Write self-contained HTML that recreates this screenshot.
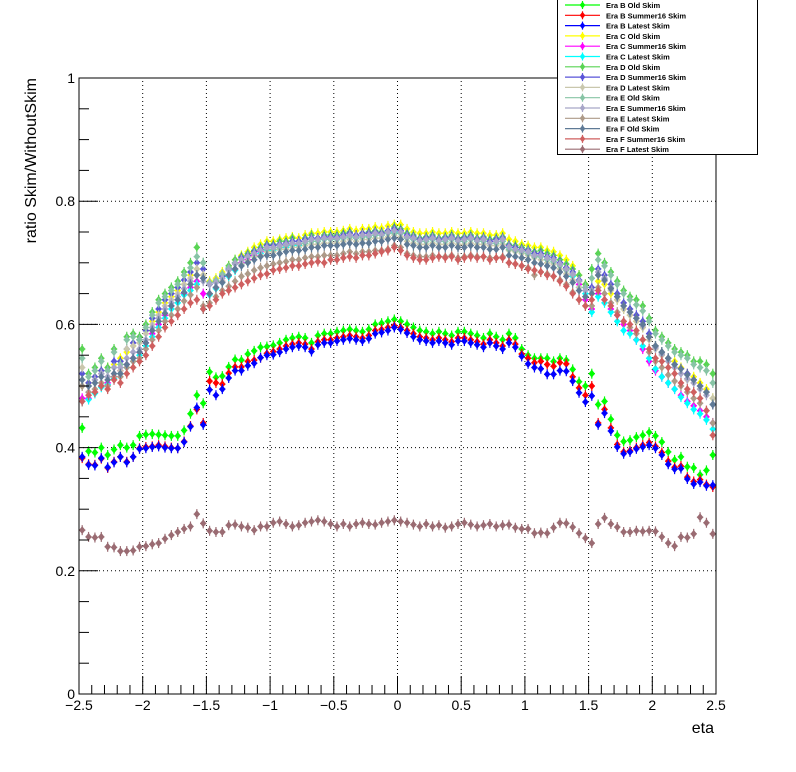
<!DOCTYPE html>
<html><head><meta charset="utf-8"><style>
html,body{margin:0;padding:0;background:#fff}
svg{display:block;font-family:"Liberation Sans",sans-serif}
</style></head><body>
<svg id="chart" width="796" height="772" viewBox="0 0 796 772" xmlns="http://www.w3.org/2000/svg">
<rect x="0" y="0" width="796" height="772" fill="#fff"/>
<g id="grid"></g>
<g id="marks"></g>
<g id="axes"></g>
<text x="32" y="78" transform="rotate(-90 32 78)" text-anchor="end" dominant-baseline="middle" font-size="16">ratio Skim/WithoutSkim</text>
<text x="714" y="733" text-anchor="end" font-size="16">eta</text>
<g id="legend"></g>
</svg>
<script>
const seriesNames=["Era B Old Skim","Era B Summer16 Skim","Era B Latest Skim","Era C Old Skim","Era C Summer16 Skim","Era C Latest Skim","Era D Old Skim","Era D Summer16 Skim","Era D Latest Skim","Era E Old Skim","Era E Summer16 Skim","Era E Latest Skim","Era F Old Skim","Era F Summer16 Skim","Era F Latest Skim"];
const xTicks=[-2.5,-2,-1.5,-1,-0.5,0,0.5,1,1.5,2,2.5];
const xTickLabels=["\u22122.5","\u22122","\u22121.5","\u22121","\u22120.5","0","0.5","1","1.5","2","2.5"];
const yTicks=[0,0.2,0.4,0.6,0.8,1];
const yTickLabels=["0","0.2","0.4","0.6","0.8","1"];
const binLow=-2.5, binWidth=0.05;
// values in thousandths
const bOld=[432,394,392,400,388,397,404,400,404,419,421,422,421,420,419,419,428,455,485,472,523,514,516,531,543,542,552,557,563,564,566,570,575,578,580,578,570,582,585,585,588,590,592,590,588,592,600,602,605,608,605,600,595,590,588,585,588,585,582,588,588,585,582,578,585,580,575,585,578,560,550,545,545,545,540,545,542,527,507,500,520,470,475,446,420,410,412,417,420,425,419,409,393,380,385,369,367,356,363,388];
const bSum=[383,373,372,382,367,377,385,377,385,399,401,402,404,402,400,399,410,435,462,440,508,505,503,521,531,531,540,542,546,553,556,560,565,568,570,568,560,572,575,575,578,580,582,580,578,582,590,592,595,598,595,590,585,580,578,575,578,575,572,578,578,575,572,568,575,570,565,575,568,552,545,538,540,535,532,538,536,515,497,485,500,440,462,432,405,393,395,400,404,408,402,392,378,368,370,352,345,348,340,336];
const bLat=[385,372,371,383,368,376,385,376,385,398,399,401,402,400,399,399,409,434,465,437,494,485,495,513,525,525,533,537,546,550,551,555,560,563,565,563,556,567,570,570,573,575,577,575,573,577,585,587,590,595,592,586,580,575,573,570,573,570,567,573,573,570,567,563,570,565,560,570,563,548,536,530,528,519,519,525,524,508,489,474,484,437,456,427,401,390,393,398,401,404,399,388,373,365,366,349,341,344,338,339];
const cOld=[500,505,515,525,530,535,545,555,565,575,590,605,620,635,645,655,665,680,690,680,670,675,685,695,705,712,718,725,730,735,735,738,740,742,740,745,748,748,750,750,750,752,755,752,755,755,758,756,760,762,762,755,750,748,748,750,748,748,750,748,748,750,748,748,745,745,748,738,735,730,728,725,725,720,718,712,705,695,680,665,650,670,665,650,640,625,615,605,595,580,565,555,545,540,530,520,515,505,495,480];
const cSum=[480,480,490,500,505,515,525,535,545,555,570,585,600,615,630,640,650,660,670,650,650,660,670,680,690,700,705,712,718,722,722,725,728,730,730,735,738,738,740,740,740,742,745,742,745,745,748,748,750,752,750,745,740,738,738,740,738,738,740,738,738,740,738,738,735,735,738,728,725,720,718,715,712,708,705,700,692,680,665,640,625,650,640,625,615,600,590,575,560,540,525,515,505,495,485,475,468,460,450,440];
const cLat=[475,478,488,498,502,512,520,530,540,550,565,580,595,610,625,635,648,655,665,625,648,658,668,678,688,698,702,710,715,720,720,722,725,728,728,732,735,735,738,738,738,740,742,740,742,742,745,745,748,750,748,742,738,735,735,738,735,735,738,735,735,738,735,735,732,732,735,725,722,718,715,712,710,705,702,698,690,678,660,650,620,645,635,620,605,590,585,575,565,545,528,515,505,495,482,472,462,455,445,430];
const dOld=[560,520,530,545,530,560,540,580,585,580,600,620,640,650,660,670,685,700,725,700,665,670,680,695,705,710,715,720,725,730,730,735,735,740,735,740,745,740,745,745,745,748,750,745,748,750,752,750,752,758,755,748,745,740,742,745,740,742,745,740,742,745,740,742,738,740,742,730,728,725,722,718,720,715,712,705,698,690,680,665,690,715,700,685,670,655,645,640,630,610,590,580,570,560,555,550,540,540,535,520];
const dSum=[520,505,515,525,525,540,540,560,570,575,590,610,625,640,650,660,672,685,700,690,665,668,678,690,700,708,712,718,722,728,728,730,732,735,735,738,740,740,742,742,742,745,748,745,748,748,750,748,752,755,752,745,742,738,740,742,738,740,742,738,740,742,738,740,735,738,740,728,725,722,720,715,715,710,708,700,692,685,672,660,660,690,680,665,650,635,625,615,605,585,565,555,545,535,528,520,510,500,490,470];
const dLat=[530,500,505,520,515,530,525,560,565,570,585,600,615,630,640,650,665,675,690,680,650,660,670,680,690,698,703,710,712,718,718,722,722,725,725,728,730,730,732,732,732,735,738,735,738,738,740,740,742,745,742,735,732,730,730,732,730,730,732,730,730,732,730,730,728,728,730,720,718,715,712,708,705,700,698,690,682,672,660,645,650,680,670,655,640,625,615,605,595,575,560,550,540,530,520,510,505,495,490,480];
const eOld=[545,515,525,540,525,555,535,575,580,575,595,615,635,645,655,665,680,692,710,700,668,672,682,692,700,705,710,715,720,722,722,725,728,730,730,732,735,735,738,738,738,740,742,740,742,742,745,745,748,748,748,740,738,735,735,738,735,735,738,735,735,738,735,735,732,732,735,722,720,718,715,710,710,705,702,695,688,680,670,660,675,705,695,680,665,650,640,632,622,605,585,575,565,555,550,545,535,530,525,505];
const eSum=[500,500,510,520,515,530,530,545,555,560,575,595,610,625,635,645,658,670,680,670,665,668,675,688,698,705,710,715,720,725,725,728,730,732,732,735,738,738,740,740,740,742,745,742,745,745,748,746,750,752,750,742,740,736,738,740,736,738,740,736,738,740,736,738,732,735,738,726,722,720,718,712,712,708,705,698,690,682,670,655,655,685,675,660,645,630,620,610,598,580,562,552,540,530,520,512,505,495,485,470];
const eLat=[500,490,495,505,500,515,515,530,540,545,560,575,590,605,615,625,638,648,660,630,635,645,655,662,670,678,682,688,692,695,698,700,702,705,705,708,710,710,712,712,712,715,718,715,718,718,720,720,722,728,725,715,712,710,710,712,710,710,712,708,710,712,710,710,708,708,710,700,698,695,692,680,685,682,678,672,665,652,640,630,630,660,650,635,620,605,595,585,575,555,540,530,518,508,500,490,480,472,460,440];
const fOld=[510,500,505,515,510,520,520,535,545,555,570,590,605,618,630,640,652,665,680,675,650,660,668,680,690,695,700,705,710,712,712,715,718,720,720,722,725,725,728,728,728,730,732,730,732,732,735,735,738,740,738,730,728,725,725,728,725,725,728,725,725,728,725,725,722,722,725,712,710,708,705,700,698,695,692,685,678,668,655,645,650,680,672,658,645,630,620,610,600,580,565,555,545,535,528,518,510,500,490,470];
const fSum=[475,485,490,500,495,510,505,520,530,540,550,565,580,595,605,615,625,635,640,625,630,640,650,655,660,665,670,675,680,682,688,690,692,695,695,698,700,702,700,705,705,708,710,708,712,712,715,718,720,725,720,712,708,705,705,708,710,708,710,705,708,710,708,710,705,708,708,700,698,695,690,688,685,680,678,670,662,650,640,630,640,655,640,630,615,605,600,590,575,560,545,540,530,520,505,495,490,480,460,420];
const fLat=[266,255,254,255,239,238,232,232,233,239,240,243,245,252,258,263,268,272,292,277,265,263,263,274,275,272,270,266,272,272,278,280,276,272,274,278,280,282,280,276,272,276,272,276,278,276,275,278,280,282,280,278,275,272,276,272,274,270,272,276,278,275,272,274,276,272,274,275,270,268,268,261,262,261,270,278,277,271,261,253,245,276,286,276,271,263,263,265,264,265,264,255,245,240,255,254,260,287,278,260];
const seriesValues=[bOld,bSum,bLat,cOld,cSum,cLat,dOld,dSum,dLat,eOld,eSum,eLat,fOld,fSum,fLat];
const seriesColors=["#00ff00","#ff0000","#0000ff","#ffff00","#ff00ff","#00ffff","#59d454","#5954d8","#c9c7ad","#87c4a5","#a8a6c8","#ad9a88","#5f7a96","#cf5f5f","#9a6b72"];
const seriesKeys=["era-b-old","era-b-summer16","era-b-latest","era-c-old","era-c-summer16","era-c-latest","era-d-old","era-d-summer16","era-d-latest","era-e-old","era-e-summer16","era-e-latest","era-f-old","era-f-summer16","era-f-latest"];

const NS="http://www.w3.org/2000/svg";
const X0=79,X1=716,Y0=694,Y1=78;
function xs(v){return X0+(v-(-2.5))/5*(X1-X0);}
function ys(v){return Y0-(v-0)/1*(Y0-Y1);}
function mk(tag,attrs,parent){const e=document.createElementNS(NS,tag);for(const k in attrs)e.setAttribute(k,attrs[k]);parent.appendChild(e);return e;}
const grid=document.getElementById('grid'),axes=document.getElementById('axes'),marks=document.getElementById('marks'),legend=document.getElementById('legend');

// grid
xTicks.forEach((t,i)=>{if(i===0||i===xTicks.length-1)return;const l=mk('line',{x1:xs(t),x2:xs(t),y1:Y0,y2:Y1,stroke:'#000','stroke-width':1,'stroke-dasharray':'1,3'},grid);

});
yTicks.forEach((t,i)=>{if(i===0||i===yTicks.length-1)return;const l=mk('line',{x1:X0,x2:X1,y1:ys(t),y2:ys(t),stroke:'#000','stroke-width':1,'stroke-dasharray':'1,3'},grid);

});

// markers
seriesValues.forEach((arr,s)=>{
  const g=mk('g',{},marks);
  
  
  const c=seriesColors[s];
  arr.forEach((v,i)=>{
    const xc=xs(binLow+binWidth*(i+0.5)), xl=xs(binLow+binWidth*i), xr=xs(binLow+binWidth*(i+1)), yc=ys(v/1000);
    const p=mk('g',{},g);
    
    
    mk('line',{x1:xl,x2:xr,y1:yc,y2:yc,stroke:c,'stroke-width':1.2},p);
    mk('line',{x1:xc,x2:xc,y1:yc-5,y2:yc+5,stroke:c,'stroke-width':1.2},p);
    mk('path',{d:`M${xc} ${yc-4}L${xc+3.2} ${yc}L${xc} ${yc+4}L${xc-3.2} ${yc}Z`,fill:c},p);
  });
});

// frame
const fr=mk('rect',{x:X0,y:Y1,width:X1-X0,height:Y0-Y1,fill:'none',stroke:'#000','stroke-width':1},axes);


// x ticks
for(let k=0;k<=50;k++){const v=-2.5+k*0.1;const major=(k%5===0);
  const l=mk('line',{x1:xs(v),x2:xs(v),y1:Y0,y2:Y0-(major?18:9),stroke:'#000','stroke-width':1},axes);
  
  }
xTicks.forEach((t,i)=>{const tx=mk('text',{x:xs(t),y:710,'text-anchor':'middle','font-size':14},axes);tx.textContent=xTickLabels[i];
  
  });
// y ticks
for(let k=0;k<=20;k++){const v=k*0.05;const major=(k%4===0);
  const l=mk('line',{x1:X0,x2:X0+(major?19:10),y1:ys(v),y2:ys(v),stroke:'#000','stroke-width':1},axes);
  
  }
yTicks.forEach((t,i)=>{const tx=mk('text',{x:75,y:ys(t)+5,'text-anchor':'end','font-size':14},axes);tx.textContent=yTickLabels[i];
  
  });

// legend
const lb=mk('rect',{x:557.5,y:-0.5,width:200,height:155,fill:'#fff',stroke:'#000','stroke-width':1},legend);


seriesNames.forEach((n,s)=>{
  const y=5+s*10.3;const c=seriesColors[s];
  const g=mk('g',{},legend);
  
  
  mk('line',{x1:565,x2:600,y1:y,y2:y,stroke:c,'stroke-width':1.2},g);
  mk('line',{x1:582.5,x2:582.5,y1:y-4,y2:y+4,stroke:c,'stroke-width':1.2},g);
  mk('path',{d:`M582.5 ${y-3.5}L585.3 ${y}L582.5 ${y+3.5}L579.7 ${y}Z`,fill:c},g);
  const t=mk('text',{x:606,y:y+3,'font-size':7.5,'font-weight':'bold'},g);t.textContent=n;
});
</script>
</body></html>
